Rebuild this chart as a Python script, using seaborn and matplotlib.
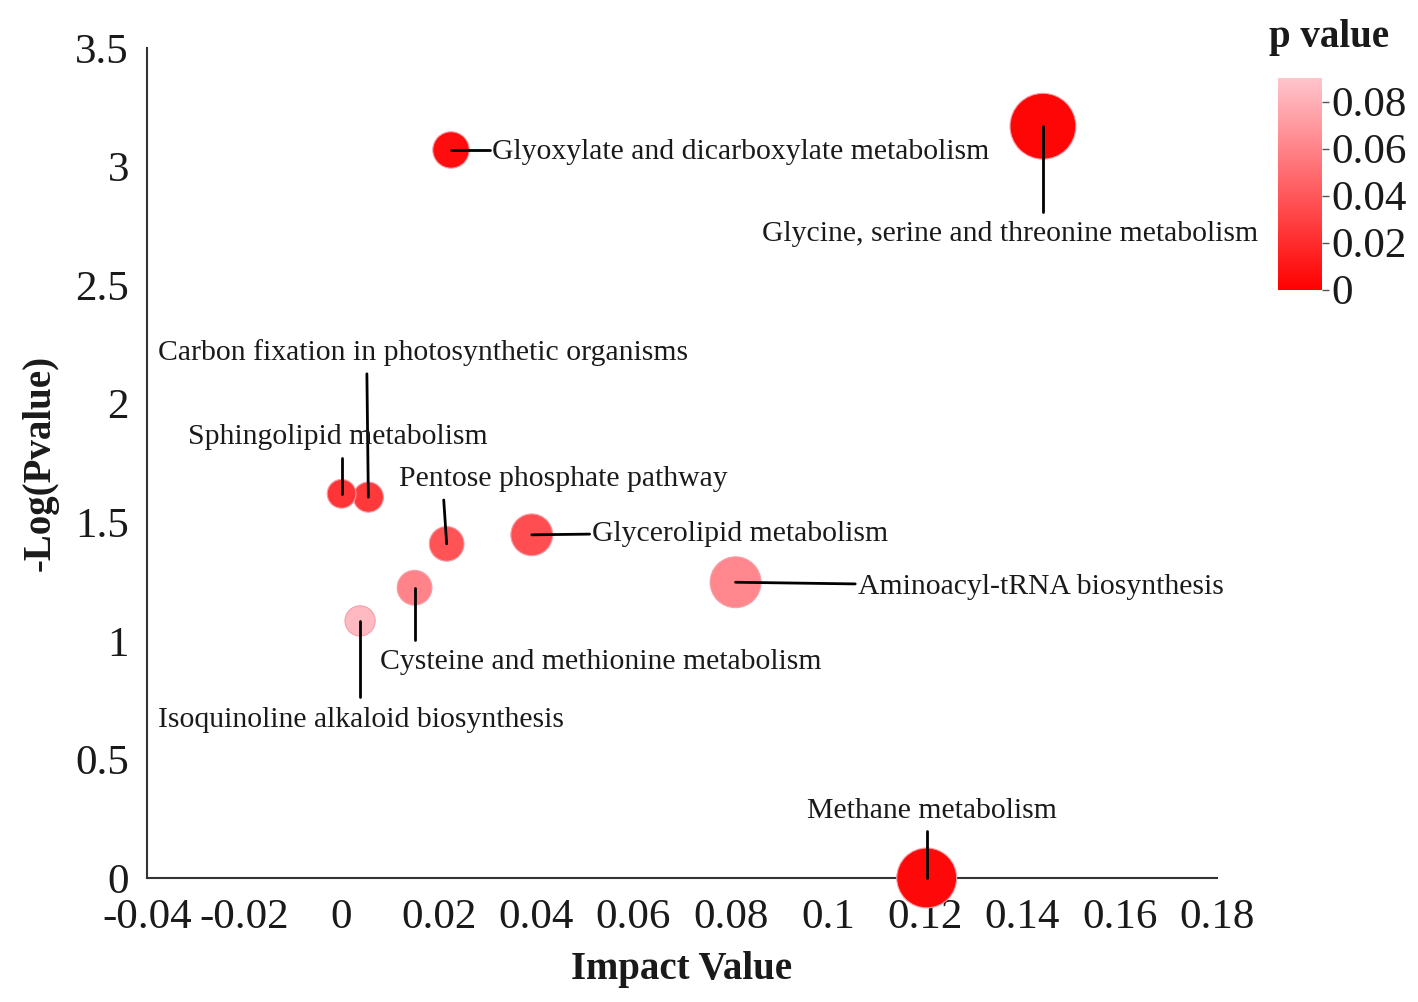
import matplotlib
matplotlib.use("Agg")
import matplotlib.pyplot as plt
import matplotlib.colors as mcolors
import matplotlib.cm as cm
import numpy as np
import pandas as pd
import seaborn as sns

# pathway data
pathways = [
    "Glyoxylate and dicarboxylate metabolism",
    "Glycine, serine and threonine metabolism",
    "Carbon fixation in photosynthetic organisms",
    "Sphingolipid metabolism",
    "Pentose phosphate pathway",
    "Glycerolipid metabolism",
    "Aminoacyl-tRNA biosynthesis",
    "Cysteine and methionine metabolism",
    "Isoquinoline alkaloid biosynthesis",
    "Methane metabolism",
]
impact = [0.0225, 0.1442, 0.0055, 0.0, 0.0216, 0.0391, 0.0810, 0.0150, 0.0038, 0.1203]
neg_log_p = [3.07, 3.17, 1.606, 1.62, 1.409, 1.447, 1.247, 1.224, 1.084, 0.0]
p_value = [0.006, 0.003, 0.026, 0.024, 0.038, 0.036, 0.062, 0.060, 0.085, 0.004]
hits = [1.6, 5.2, 1.1, 1.0, 1.45, 2.1, 3.1, 1.45, 1.1, 4.3]

df = pd.DataFrame({"pathway": pathways, "impact": impact, "neglogp": neg_log_p,
                   "p": p_value, "hits": hits})

# label layout: (line end x, line end y, text x, text y, ha)
label_pos = {
    "Glyoxylate and dicarboxylate metabolism": (0.0305, 3.07, 0.031, 3.062, "left"),
    "Glycine, serine and threonine metabolism": (0.1442, 2.81, 0.1374, 2.716, "center"),
    "Carbon fixation in photosynthetic organisms": (0.0052, 2.126, -0.0377, 2.214, "left"),
    "Sphingolipid metabolism": (0.0, 1.771, -0.0316, 1.86, "left"),
    "Pentose phosphate pathway": (0.0210, 1.594, 0.0118, 1.683, "left"),
    "Glycerolipid metabolism": (0.0510, 1.45, 0.0515, 1.452, "left"),
    "Aminoacyl-tRNA biosynthesis": (0.1056, 1.24, 0.1062, 1.226, "left"),
    "Cysteine and methionine metabolism": (0.0150, 1.004, 0.0079, 0.912, "left"),
    "Isoquinoline alkaloid biosynthesis": (0.0038, 0.763, -0.0377, 0.668, "left"),
    "Methane metabolism": (0.1203, 0.20, 0.1213, 0.283, "center"),
}

sns.set_style("white")
plt.rcParams["font.family"] = ["Liberation Serif", "DejaVu Serif"]
plt.rcParams["axes.edgecolor"] = "#333333"

cmap = mcolors.LinearSegmentedColormap.from_list("redpink", ["#ff0000", "#ffc4cc"])
norm = mcolors.Normalize(vmin=0, vmax=0.09)

fig = plt.figure(figsize=(14.18, 10.02), dpi=100)
ax = fig.add_axes([0.1037, 0.1238, 0.7546, 0.8283])

sns.scatterplot(data=df, x="impact", y="neglogp", hue="p", palette=cmap, hue_norm=norm,
                size="hits", sizes=(430, 2250), linewidth=0.8, edgecolor="#f4a0a8",
                legend=False, clip_on=False, zorder=3, ax=ax)

for _, row in df.iterrows():
    lx, ly, tx, ty, ha = label_pos[row["pathway"]]
    ax.plot([row["impact"], lx], [row["neglogp"], ly], color="black", lw=2,
            zorder=4, clip_on=False)
    ax.text(tx, ty, row["pathway"], ha=ha, va="center", fontsize=21.4, color="#1a1a1a",
            zorder=5)

xt = np.round(np.arange(-0.04, 0.181, 0.02), 2)
yt = np.arange(0, 3.51, 0.5)
ax.set_xlim(-0.04, 0.18)
ax.set_ylim(0, 3.5)
ax.set_xticks(xt)
ax.set_yticks(yt)
ax.set_xticklabels([f"{v:g}" for v in xt])
ax.set_yticklabels([f"{v:g}" for v in yt])
ax.tick_params(direction="out", length=8, width=1.5, labelsize=31, colors="#333333",
               labelcolor="#1a1a1a")
ax.tick_params(axis="y", pad=5)
ax.tick_params(axis="x", pad=7)
sns.despine(ax=ax)
for s in ["left", "bottom"]:
    ax.spines[s].set_linewidth(1.5)

ax.set_xlabel("Impact Value", fontsize=28, fontweight="bold", labelpad=10, color="#1a1a1a")
ax.set_ylabel("-Log(Pvalue)", fontsize=28, fontweight="bold", labelpad=12, color="#1a1a1a")

# colour bar
cax = fig.add_axes([0.901, 0.711, 0.031, 0.211])
sm = cm.ScalarMappable(norm=norm, cmap=cmap)
cb = fig.colorbar(sm, cax=cax)
cb.outline.set_visible(False)
cb.set_ticks([0, 0.02, 0.04, 0.06, 0.08])
cb.set_ticklabels(["0", "0.02", "0.04", "0.06", "0.08"])
cax.tick_params(length=5, width=1, labelsize=31, colors="#555555", labelcolor="#1a1a1a", pad=2)
fig.text(0.937, 0.963, "p value", ha="center", va="center", fontsize=28,
         fontweight="bold", color="#1a1a1a")

fig.savefig("out.png", dpi=100)
